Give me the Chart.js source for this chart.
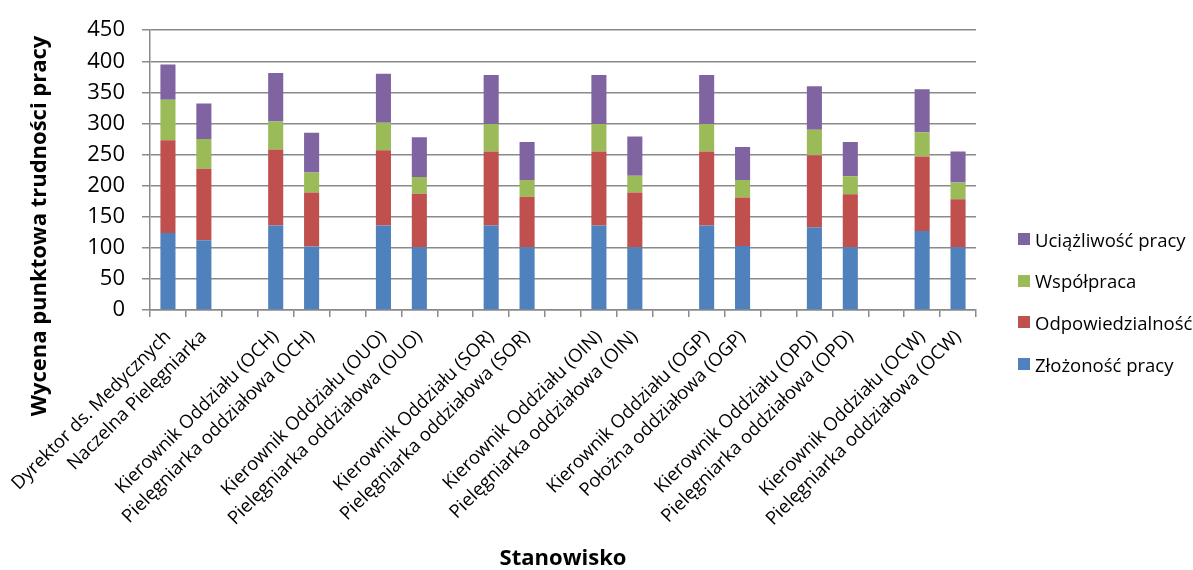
<!DOCTYPE html>
<html>
<head>
<meta charset="utf-8">
<script src="https://cdn.jsdelivr.net/npm/chart.js@4/dist/chart.umd.min.js"></script>
<style>
  html, body { margin: 0; padding: 0; background: #fff; }
  #wrap { position: relative; width: 1193px; height: 570px; overflow: hidden; }
  #legend { position: absolute; left: 1018px; top: 0; font-family: "Open Sans", sans-serif; font-size: 18.5px; color: #000; }
  .item { position: absolute; left: 0; white-space: nowrap; display: flex; align-items: center; height: 26px; }
  .sw { width: 12px; height: 12px; margin-right: 5px; flex: none; }
</style>
</head>
<body>
<div id="wrap">
  <canvas id="c" width="1193" height="570"></canvas>
  <div id="legend"></div>
</div>
<script>
// Positions (blank entries keep a gap between departments)
const categories = [
  "Dyrektor ds. Medycznych", "Naczelna Pielęgniarka", "",
  "Kierownik Oddziału (OCH)", "Pielęgniarka oddziałowa (OCH)", "",
  "Kierownik Oddziału (OUO)", "Pielęgniarka oddziałowa (OUO)", "",
  "Kierownik Oddziału (SOR)", "Pielęgniarka oddziałowa (SOR)", "",
  "Kierownik Oddziału (OIN)", "Pielęgniarka oddziałowa (OIN)", "",
  "Kierownik Oddziału (OGP)", "Położna oddziałowa (OGP)", "",
  "Kierownik Oddziału (OPD)", "Pielęgniarka oddziałowa (OPD)", "",
  "Kierownik Oddziału (OCW)", "Pielęgniarka oddziałowa (OCW)"
];

// Points per criterion
const zlozonosc = [124, 112, null, 136, 102, null, 136, 101, null, 136, 101, null, 136, 101, null, 136, 103, null, 133, 101, null, 127, 101];
const odpowiedzialnosc = [149, 115, null, 122, 87, null, 121, 86, null, 119, 81, null, 119, 88, null, 119, 78, null, 116, 85, null, 120, 77];
const wspolpraca = [65, 48, null, 45, 32, null, 44, 27, null, 44, 27, null, 44, 27, null, 44, 28, null, 41, 29, null, 39, 27];
const uciazliwosc = [57, 57, null, 78, 64, null, 79, 64, null, 79, 61, null, 79, 63, null, 79, 53, null, 70, 55, null, 69, 50];

const seriesNames = ["Złożoność pracy", "Odpowiedzialność", "Współpraca", "Uciążliwość pracy"];
const seriesColors = ["#4F81BD", "#C0504D", "#9BBB59", "#8064A2"];

const yTicks = { min: 0, max: 450, step: 50 };
const xTitle = "Stanowisko";
const yTitle = "Wycena punktowa trudności pracy";

const FONT = '"Open Sans", sans-serif';
const GRID = "#8a8a8a";

const axisTitles = {
  id: "axisTitles",
  afterDraw(chart) {
    const ctx = chart.ctx;
    ctx.save();
    ctx.fillStyle = "#000";
    ctx.font = "bold 22px " + FONT;
    ctx.textAlign = "center";
    ctx.textBaseline = "middle";
    ctx.fillText(xTitle, 563, 559);
    ctx.translate(40, 226);
    ctx.rotate(-Math.PI / 2);
    ctx.fillText(yTitle, 0, 0);
    ctx.restore();
  }
};

const values = [zlozonosc, odpowiedzialnosc, wspolpraca, uciazliwosc];

const chart = new Chart(document.getElementById("c"), {
  type: "bar",
  data: {
    labels: categories,
    datasets: values.map((v, i) => ({
      label: seriesNames[i],
      data: v,
      backgroundColor: seriesColors[i],
      borderWidth: 0,
      categoryPercentage: 1,
      barPercentage: 0.42
    }))
  },
  options: {
    responsive: false,
    animation: false,
    layout: { padding: { top: 25, right: 217, bottom: 0, left: 0 } },
    plugins: { legend: { display: false }, tooltip: { enabled: false } },
    scales: {
      x: {
        stacked: true,
        afterFit(scale) { scale.height = 260; },
        grid: { drawOnChartArea: false, drawTicks: true, tickLength: 7, color: GRID, lineWidth: 1.5 },
        border: { color: GRID, width: 1.5 },
        ticks: {
          autoSkip: false, minRotation: 45, maxRotation: 45, padding: 9,
          color: "#000", font: { family: FONT, size: 18.5 }
        }
      },
      y: {
        stacked: true,
        min: yTicks.min, max: yTicks.max,
        afterFit(scale) { scale.width = 150; },
        grid: { color: GRID, lineWidth: 1.5, tickLength: 8 },
        border: { color: GRID, width: 1.5 },
        ticks: { stepSize: yTicks.step, padding: 17, color: "#000", font: { family: FONT, size: 22 } }
      }
    }
  },
  plugins: [axisTitles]
});

// Legend, listed top to bottom in reverse stacking order
const legend = document.getElementById("legend");
const legendTop = 239, legendStep = 41.7;
[...chart.data.datasets].reverse().forEach((ds, i) => {
  const item = document.createElement("div");
  item.className = "item";
  item.style.top = (legendTop + i * legendStep - 13) + "px";
  const sw = document.createElement("span");
  sw.className = "sw";
  sw.style.background = ds.backgroundColor;
  const tx = document.createElement("span");
  tx.textContent = ds.label;
  item.appendChild(sw);
  item.appendChild(tx);
  legend.appendChild(item);
});
</script>
</body>
</html>
